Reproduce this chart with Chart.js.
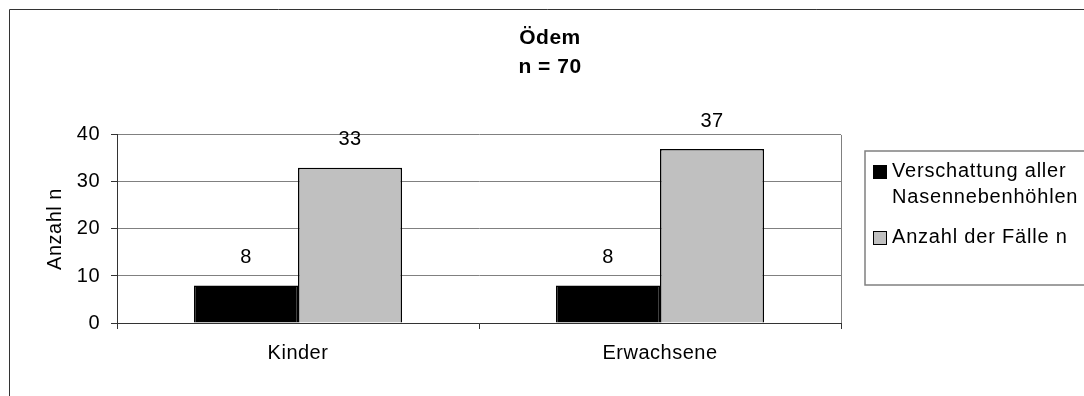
<!DOCTYPE html>
<html>
<head>
<meta charset="utf-8">
<script src="https://cdn.jsdelivr.net/npm/chart.js@4/dist/chart.umd.min.js"></script>
<style>
html,body{margin:0;padding:0;background:#fff;}
#wrap{position:relative;width:1084px;height:396px;}
</style>
</head>
<body>
<div id="wrap"><canvas id="c" width="1084" height="396"></canvas></div>
<script>
const categories = ['Kinder', 'Erwachsene'];
const seriesNames = ['Verschattung aller Nasennebenhöhlen', 'Anzahl der Fälle n'];
const legendLines = [['Verschattung aller', 'Nasennebenhöhlen'], ['Anzahl der Fälle n']];
const shadowedValues = [8, 8];
const casesValues = [33, 37];
const yTicks = [0, 10, 20, 30, 40];
const titleLines = ['Ödem', 'n = 70'];
const yAxisTitle = 'Anzahl n';

const FONT = "'Liberation Sans', Arial, sans-serif";

const framePlugin = {
  id: 'frame',
  beforeInit(chart) {
    try { chart.ctx.letterSpacing = '0.5px'; } catch (e) {}
  },
  beforeDraw(chart) {
    const ctx = chart.ctx;
    ctx.letterSpacing = '0.5px';
    ctx.save();
    ctx.fillStyle = '#fff';
    ctx.fillRect(0, 0, chart.width, chart.height);
    ctx.strokeStyle = '#333';
    ctx.lineWidth = 1;
    ctx.beginPath();
    ctx.moveTo(9.5, chart.height + 5);
    ctx.lineTo(9.5, 9.5);
    ctx.lineTo(chart.width + 5, 9.5);
    ctx.stroke();
    ctx.restore();
  },
  afterDraw(chart) {
    const ctx = chart.ctx;
    const a = chart.chartArea;
    ctx.save();
    ctx.strokeStyle = '#808080';
    ctx.lineWidth = 1;
    ctx.beginPath();
    ctx.moveTo(Math.round(a.right) + 0.5, a.top);
    ctx.lineTo(Math.round(a.right) + 0.5, a.bottom);
    ctx.stroke();
    const lx = 865, ly = 151, lw = 240, lh = 134;
    ctx.strokeStyle = '#808080';
    ctx.lineWidth = 1.5;
    ctx.strokeRect(lx, ly, lw, lh);
    ctx.font = '20px ' + FONT;
    ctx.letterSpacing = '0.8px';
    ctx.textBaseline = 'middle';
    ctx.textAlign = 'left';
    const rows = [[171, 197], [237]];
    chart.data.datasets.forEach((ds, i) => {
      const ys = rows[i];
      const cy = ys[0] + 1;
      ctx.fillStyle = ds.backgroundColor;
      ctx.fillRect(873, cy - 7, 13, 13);
      ctx.strokeStyle = '#000';
      ctx.lineWidth = 1;
      ctx.strokeRect(873.5, cy - 6.5, 13, 13);
      ctx.fillStyle = '#000';
      legendLines[i].forEach((t, j) => ctx.fillText(t, 892, ys[j]));
    });
    ctx.restore();
  }
};

const valueLabels = {
  id: 'valueLabels',
  afterDatasetsDraw(chart) {
    const ctx = chart.ctx;
    ctx.save();
    ctx.font = '20px ' + FONT;
    ctx.fillStyle = '#000';
    ctx.textAlign = 'center';
    ctx.textBaseline = 'middle';
    chart.data.datasets.forEach((ds, i) => {
      const meta = chart.getDatasetMeta(i);
      meta.data.forEach((el, j) => {
        ctx.fillText(String(ds.data[j]), el.x, el.y - 28);
      });
    });
    ctx.restore();
  }
};

new Chart(document.getElementById('c'), {
  type: 'bar',
  data: {
    labels: categories,
    datasets: [
      { label: seriesNames[0], data: shadowedValues, backgroundColor: '#000000', borderColor: '#000000', borderWidth: 1.5 },
      { label: seriesNames[1], data: casesValues, backgroundColor: '#c0c0c0', borderColor: '#000000', borderWidth: 1.5 }
    ]
  },
  options: {
    responsive: false,
    animation: false,
    devicePixelRatio: 1,
    layout: { padding: { left: 16, right: 0, top: 0, bottom: 0 } },
    datasets: { bar: { barPercentage: 1, categoryPercentage: 0.575 } },
    plugins: {
      legend: { display: false },
      tooltip: { enabled: false },
      title: {
        display: true,
        text: titleLines,
        color: '#000',
        font: { family: FONT, size: 21, weight: 'bold', lineHeight: 1.38 },
        padding: { top: 23.5, bottom: 53.5 }
      }
    },
    scales: {
      x: {
        grid: { display: true, drawOnChartArea: false, drawTicks: true, tickLength: 6, offset: true, color: '#333' },
        border: { display: true, color: '#333', width: 1 },
        ticks: { color: '#000', font: { family: FONT, size: 20 }, padding: 12 },
        afterFit(s) { s.height = 73; }
      },
      y: {
        min: 0, max: 40,
        afterBuildTicks(s) { s.ticks = yTicks.map(v => ({ value: v })); },
        grid: { color: '#808080', tickColor: '#333', tickLength: 6, lineWidth: 1 },
        border: { display: true, color: '#333', width: 1 },
        ticks: { color: '#000', font: { family: FONT, size: 20 }, padding: 11 },
        title: { display: true, text: yAxisTitle, color: '#000', font: { family: FONT, size: 20 }, padding: { top: 27 } },
        afterFit(s) { s.width = 101; }
      },
      yR: {
        position: 'right',
        display: true,
        grid: { display: false },
        border: { display: false },
        ticks: { display: false },
        afterFit(s) { s.width = 243; }
      }
    }
  },
  plugins: [framePlugin, valueLabels]
});
</script>
</body>
</html>
